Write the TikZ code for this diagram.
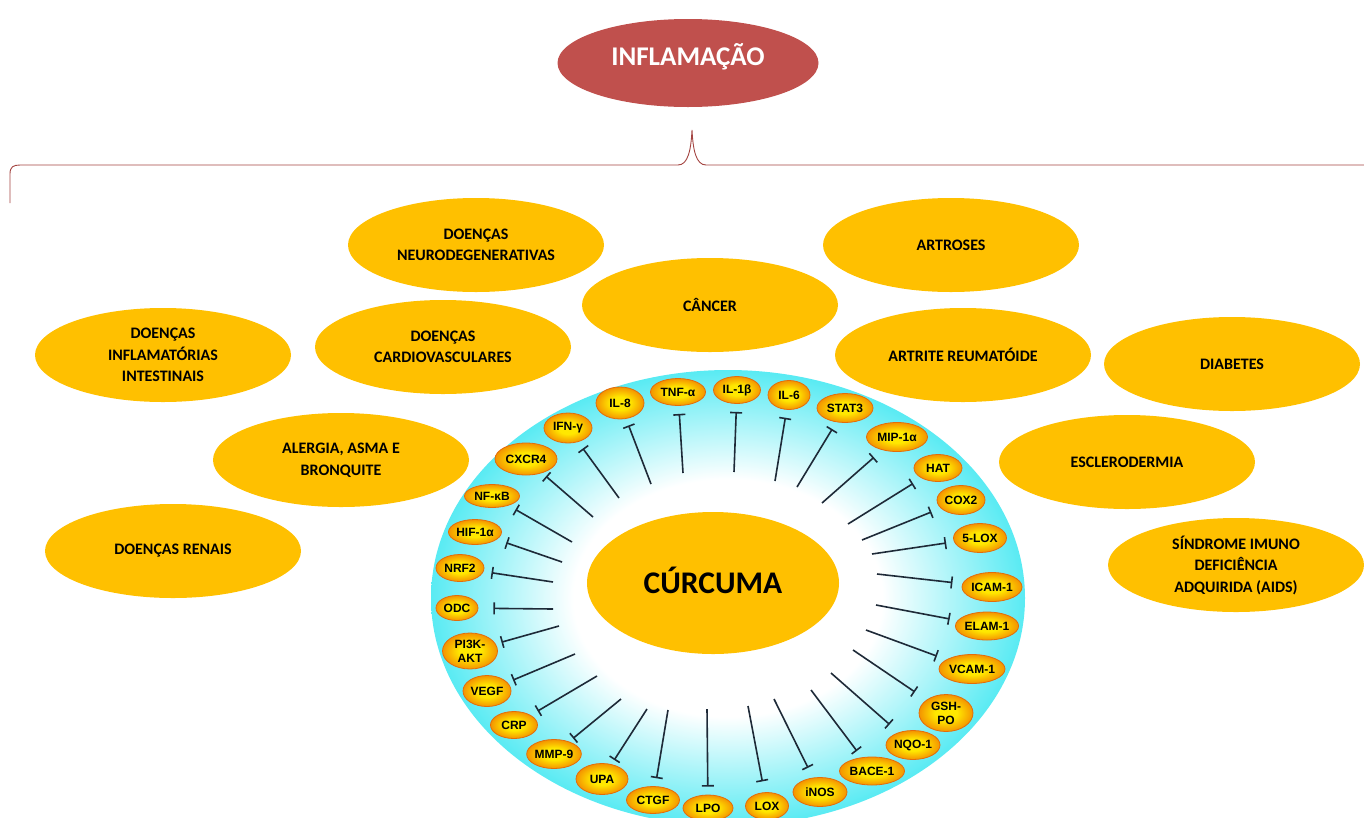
\documentclass[tikz,border=0pt]{standalone}
\usepackage{fontspec}
\setmainfont{Carlito}
\newfontfamily\arialfont{Liberation Sans}
\usepackage{tikz}
\usetikzlibrary{shapes.geometric,arrows.meta}

\definecolor{vermelho}{RGB}{192,80,77}
\definecolor{ouro}{RGB}{255,192,0}
\definecolor{ciano}{RGB}{20,226,238}
\definecolor{amarelo}{RGB}{255,232,0}
\definecolor{laranja}{RGB}{240,120,0}
\definecolor{borda}{RGB}{228,108,10}
\definecolor{traco}{RGB}{30,42,56}

% a borda da elipse fica a 35bp
\pgfdeclareradialshading{anel}{\pgfpoint{0bp}{0bp}}{color(0bp)=(white); color(13bp)=(white); color(30bp)=(ciano); color(50bp)=(ciano)}
\pgfdeclareradialshading{bolha}{\pgfpoint{0bp}{0bp}}{color(0bp)=(amarelo); color(10bp)=(amarelo); color(30bp)=(laranja); color(50bp)=(laranja)}

\begin{document}
\begin{tikzpicture}[x=1pt,y=-1pt,
	every node/.style={inner sep=0pt},
	titulo/.style={ellipse, fill=vermelho, minimum width=261pt, minimum height=88pt, text=white, text height=19pt, text depth=14pt, font=\bfseries\fontsize{27}{30}\selectfont},
	chave/.style={draw=vermelho!85!black, line width=0.9pt},
	doenca/.style={ellipse, fill=ouro, minimum width=256pt, minimum height=94pt, align=center, font=\bfseries\fontsize{16}{21.5}\selectfont},
	fundo/.style={ellipse, shade, shading=anel, minimum width=594pt, minimum height=456pt},
	curcuma/.style={ellipse, fill=ouro, minimum width=252pt, minimum height=142pt, text height=20.3pt, text depth=0pt, font=\bfseries\fontsize{31.5}{36}\selectfont},
	alvo/.style={ellipse, draw=borda, line width=0.8pt, shade, shading=bolha, minimum width=48pt, minimum height=29pt, align=center, font=\arialfont\bfseries\fontsize{12}{14}\selectfont},
	inib/.style={draw=traco, line width=1.6pt, -{Bar[width=12pt]}, shorten >=8pt}]
	\useasboundingbox (0,0) rectangle (1364,817);
	% titulo e chave
	\node[titulo] (inflam) at (688,63) {INFLAMAÇÃO};
	\draw[chave] (10,203) -- (10,174) .. controls (10,167) and (13,165) .. (20,165) -- (678,165) .. controls (688,165) and (691,150) .. (692,130) .. controls (693,150) and (696,165) .. (706,165) -- (1364,165);
	% doencas
	\node[doenca] (neuro) at (476,245) {DOENÇAS\\NEURODEGENERATIVAS};
	\node[doenca] (artroses) at (951,245) {ARTROSES};
	\node[doenca] (cancer) at (710,305) {CÂNCER};
	\node[doenca] (intestino) at (163,355) {DOENÇAS\\INFLAMATÓRIAS\\INTESTINAIS};
	\node[doenca] (cardio) at (443,347) {DOENÇAS\\CARDIOVASCULARES};
	\node[doenca] (artrite) at (963,355) {ARTRITE REUMATÓIDE};
	\node[doenca] (diabetes) at (1232,364) {DIABETES};
	\node[doenca] (alergia) at (341,460) {ALERGIA, ASMA E\\BRONQUITE};
	\node[doenca] (esclero) at (1127,462) {ESCLERODERMIA};
	\node[doenca] (renais) at (173,551) {DOENÇAS RENAIS};
	\node[doenca] (aids) at (1236,565) {SÍNDROME IMUNO\\DEFICIÊNCIA\\ADQUIRIDA (AIDS)};
	% circulo
	\node[fundo] (fundo) at (728,598) {};
	\node[curcuma] (curcuma) at (713,583) {CÚRCUMA};
	% alvos
	\node[alvo, minimum height=32pt] (il8) at (620,403) {IL-8};
	\node[alvo, minimum width=55pt, minimum height=27pt] (tnf) at (678,392) {TNF-α};
	\node[alvo, minimum width=47pt, minimum height=27pt] (il1b) at (737,390) {IL-1β};
	\node[alvo, minimum width=42pt] (il6) at (789,395) {IL-6};
	\node[alvo, minimum width=56pt] (stat3) at (845,408) {STAT3};
	\node[alvo, minimum width=61pt] (mip) at (897,437) {MIP-1α};
	\node[alvo, minimum height=27pt] (hat) at (938,468) {HAT};
	\node[alvo] (cox2) at (961,500) {COX2};
	\node[alvo, minimum width=53pt] (lox5) at (980,538) {5-LOX};
	\node[alvo, minimum width=60pt] (icam) at (992,587) {ICAM-1};
	\node[alvo, minimum width=61pt, minimum height=28pt] (elam) at (987,626) {ELAM-1};
	\node[alvo, minimum width=66pt] (vcam) at (972,669) {VCAM-1};
	\node[alvo, minimum width=54pt, minimum height=37pt] (gshpo) at (946,713) {GSH-\\PO};
	\node[alvo, minimum width=54pt] (nqo) at (913,745) {NQO-1};
	\node[alvo, minimum width=65pt, minimum height=28pt] (bace) at (872,771) {BACE-1};
	\node[alvo, minimum width=54pt] (inos) at (820,792) {iNOS};
	\node[alvo, minimum width=43pt, minimum height=27pt] (lox) at (767,806) {LOX};
	\node[alvo, minimum width=50pt, minimum height=26pt] (lpo) at (708,808) {LPO};
	\node[alvo, minimum width=53pt, minimum height=27pt] (ctgf) at (653,800) {CTGF};
	\node[alvo, minimum width=52pt, minimum height=31pt] (upa) at (602,779) {UPA};
	\node[alvo, minimum width=54pt] (mmp9) at (554,754) {MMP-9};
	\node[alvo, minimum width=47pt, minimum height=27pt] (crp) at (514,725) {CRP};
	\node[alvo, minimum height=31pt] (vegf) at (487,691) {VEGF};
	\node[alvo, minimum width=55pt, minimum height=36pt] (pi3k) at (470,651) {PI3K-\\AKT};
	\node[alvo, minimum width=42pt, minimum height=25pt] (odc) at (457,608) {ODC};
	\node[alvo, minimum height=27pt] (nrf2) at (460,568) {NRF2};
	\node[alvo, minimum width=53pt, minimum height=25pt] (hif) at (475,532) {HIF-1α};
	\node[alvo, minimum width=55pt, minimum height=23pt] (nfkb) at (492,496) {NF-κB};
	\node[alvo, minimum width=62pt, minimum height=32pt] (cxcr4) at (526,459) {CXCR4};
	\node[alvo, minimum height=30pt] (ifn) at (568,428) {IFN-γ};
	% inibicoes
	\draw[inib] (683,473) coordinate (itnf) -- (tnf);
	\draw[inib] (734,472) coordinate (iil1b) -- (il1b);
	\draw[inib] (775,481) coordinate (iil6) -- (il6);
	\draw[inib] (797,487) coordinate (istat3) -- (stat3);
	\draw[inib, shorten >=11pt] (822,503) coordinate (imip) -- (mip);
	\draw[inib, shorten >=10pt] (848,524) coordinate (ihat) -- (hat);
	\draw[inib, shorten >=10pt] (862,540) coordinate (icox2) -- (cox2);
	\draw[inib] (872,554) coordinate (ilox5) -- (lox5);
	\draw[inib, shorten >=10pt] (877,574) coordinate (iicam) -- (icam);
	\draw[inib] (876,605) coordinate (ielam) -- (elam);
	\draw[inib, shorten >=10pt] (866,630) coordinate (ivcam) -- (vcam);
	\draw[inib, shorten >=14pt] (853,650) coordinate (igshpo) -- (gshpo);
	\draw[inib, shorten >=12pt] (831,673) coordinate (inqo) -- (nqo);
	\draw[inib] (811,690) coordinate (ibace) -- (bace);
	\draw[inib, shorten >=11pt] (774,699) coordinate (iinos) -- (inos);
	\draw[inib, shorten >=11pt] (748,706) coordinate (ilox) -- (lox);
	\draw[inib] (707,709) coordinate (ilpo) -- (lpo);
	\draw[inib] (668,710) coordinate (ictgf) -- (ctgf);
	\draw[inib, shorten >=5pt] (647,709) coordinate (iupa) -- (upa);
	\draw[inib, shorten >=5pt] (621,699) coordinate (immp9) -- (mmp9);
	\draw[inib] (597,676) coordinate (icrp) -- (crp);
	\draw[inib, shorten >=6pt] (575,654) coordinate (ivegf) -- (vegf);
	\draw[inib, shorten >=6pt] (559,626) coordinate (ipi3k) -- (pi3k);
	\draw[inib, shorten >=15pt] (553,609) coordinate (iodc) -- (odc);
	\draw[inib] (553,582) coordinate (inrf2) -- (nrf2);
	\draw[inib, shorten >=10pt] (562,562) coordinate (ihif) -- (hif);
	\draw[inib] (572,542) coordinate (infkb) -- (nfkb);
	\draw[inib, shorten >=5pt] (593,517) coordinate (icxcr4) -- (cxcr4);
	\draw[inib] (619,498) coordinate (iifn) -- (ifn);
	\draw[inib, shorten >=7pt] (651,484) coordinate (iil8) -- (il8);
\end{tikzpicture}
\end{document}
